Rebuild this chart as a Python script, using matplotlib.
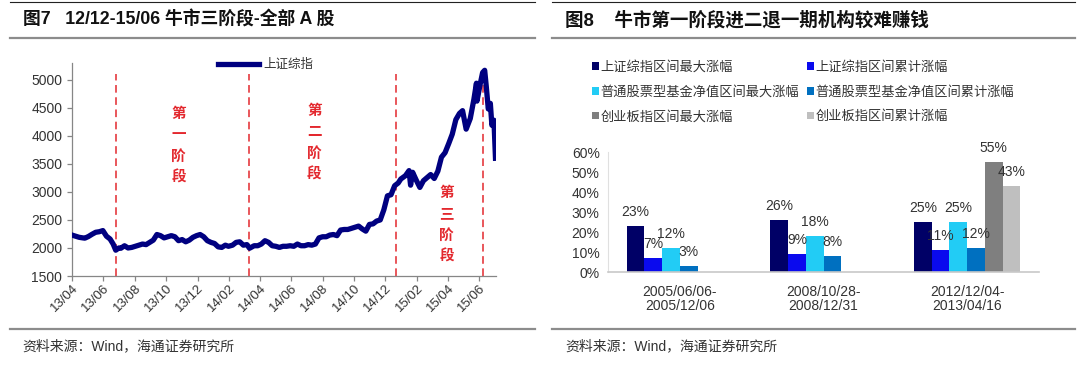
import matplotlib
matplotlib.use("Agg")
import matplotlib.pyplot as plt
import matplotlib.dates as mdates
from matplotlib.lines import Line2D
import numpy as np
import pandas as pd

plt.rcParams['font.family'] = ['Liberation Sans', 'Noto Sans CJK SC']

W, H = 1080, 368

# ---- 图7: 上证综指 (weekly points) ----
sh_dates = [
    '2013-04-01', '2013-04-08', '2013-04-15', '2013-04-22', '2013-04-26', '2013-05-03',
    '2013-05-10', '2013-05-17', '2013-05-24', '2013-05-31', '2013-06-07', '2013-06-14',
    '2013-06-20', '2013-06-25', '2013-07-01', '2013-07-05', '2013-07-12', '2013-07-19',
    '2013-07-26', '2013-08-02', '2013-08-09', '2013-08-16', '2013-08-23', '2013-08-30',
    '2013-09-06', '2013-09-13', '2013-09-20', '2013-09-27', '2013-10-11', '2013-10-18',
    '2013-10-25', '2013-11-01', '2013-11-08', '2013-11-15', '2013-11-22', '2013-11-29',
    '2013-12-06', '2013-12-13', '2013-12-20', '2013-12-27',
    '2014-01-03', '2014-01-10', '2014-01-17', '2014-01-24', '2014-01-30', '2014-02-07',
    '2014-02-14', '2014-02-21', '2014-02-28', '2014-03-07', '2014-03-12', '2014-03-21',
    '2014-03-28', '2014-04-04', '2014-04-11', '2014-04-18', '2014-04-25', '2014-05-02',
    '2014-05-09', '2014-05-16', '2014-05-23', '2014-05-30', '2014-06-06', '2014-06-13',
    '2014-06-20', '2014-06-27', '2014-07-04', '2014-07-11', '2014-07-18', '2014-07-25',
    '2014-08-01', '2014-08-08', '2014-08-15', '2014-08-22', '2014-08-29', '2014-09-05',
    '2014-09-12', '2014-09-19', '2014-09-26', '2014-10-10', '2014-10-17', '2014-10-24',
    '2014-10-31', '2014-11-07', '2014-11-14', '2014-11-21', '2014-11-28', '2014-12-05',
    '2014-12-12', '2014-12-19', '2014-12-26', '2014-12-31',
    '2015-01-09', '2015-01-16', '2015-01-19', '2015-01-23', '2015-01-30', '2015-02-06',
    '2015-02-13', '2015-02-27', '2015-03-06', '2015-03-13', '2015-03-20', '2015-03-27',
    '2015-04-03', '2015-04-10', '2015-04-17', '2015-04-24', '2015-04-30', '2015-05-07',
    '2015-05-15', '2015-05-22', '2015-05-27', '2015-05-28', '2015-06-03', '2015-06-08',
    '2015-06-12', '2015-06-15', '2015-06-19', '2015-06-23', '2015-06-26', '2015-06-30',
    '2015-07-03',
]
sh_close = [
    2230, 2210, 2190, 2180, 2175, 2205,
    2245, 2280, 2290, 2310, 2210, 2160,
    2070, 1960, 2000, 1995, 2040, 2000,
    2010, 2030, 2050, 2070, 2060, 2100,
    2140, 2240, 2220, 2180, 2220, 2200,
    2130, 2150, 2110, 2140, 2190, 2220,
    2240, 2200, 2130, 2100,
    2080, 2020, 2010, 2050, 2030, 2050,
    2100, 2110, 2050, 2060, 1995, 2040,
    2040, 2070, 2130, 2100, 2040, 2030,
    2010, 2030, 2030, 2040, 2030, 2070,
    2040, 2040, 2060, 2050, 2070, 2180,
    2200, 2200, 2230, 2240, 2220, 2320,
    2330, 2330, 2350, 2390, 2340, 2300,
    2420, 2430, 2480, 2500, 2680, 2930,
    2950, 3110, 3160, 3230,
    3290, 3380, 3120, 3350, 3210, 3080,
    3200, 3310, 3240, 3370, 3620, 3700,
    3860, 4030, 4290, 4400, 4450, 4120,
    4310, 4650, 4940, 4620, 4910, 5130,
    5170, 4890, 4480, 4580, 4190, 4280,
    3600,
]
stage_dates = ['2013-06-25', '2014-03-11', '2014-12-22', '2015-06-09']
stage_labels = ['第\n一\n阶\n段', '第\n二\n阶\n段', '第\n三\n阶\n段']

# ---- 图8: 区间涨幅 (%) ----
periods = ['2005/06/06-\n2005/12/06', '2008/10/28-\n2008/12/31', '2012/12/04-\n2013/04/16']
sh_max = [23, 26, 25]
sh_cum = [7, 9, 11]
fund_max = [12, 18, 25]
fund_cum = [3, 8, 12]
gem_max = [np.nan, np.nan, 55]
gem_cum = [np.nan, np.nan, 43]
series_names = ['上证综指区间最大涨幅', '上证综指区间累计涨幅',
                '普通股票型基金净值区间最大涨幅', '普通股票型基金净值区间累计涨幅',
                '创业板指区间最大涨幅', '创业板指区间累计涨幅']
series_colors = ['#000066', '#0A0AEE', '#22CCF5', '#0070C0', '#7F7F7F', '#BFBFBF']

fig = plt.figure(figsize=(W / 100, H / 100), dpi=100)


def fx(px):
    return px / W


def fy(py):
    return 1 - py / H


# frame lines of both panels
for x0, x1 in [(10, 535), (552, 1075)]:
    fig.add_artist(Line2D([fx(x0), fx(x1)], [fy(2), fy(2)], color='#222222', lw=0.8))
    fig.add_artist(Line2D([fx(x0), fx(x1)], [fy(38), fy(38)], color='#8C8C8C', lw=1.6))
    fig.add_artist(Line2D([fx(x0), fx(x1)], [fy(329), fy(329)], color='#8C8C8C', lw=1.6))

fig.text(fx(23), fy(20), '图7   12/12-15/06 牛市三阶段-全部 A 股', fontsize=12.8,
         fontweight='bold', va='center', ha='left', color='#111111')
fig.text(fx(565), fy(20), '图8    牛市第一阶段进二退一期机构较难赚钱', fontsize=13.3,
         fontweight='bold', va='center', ha='left', color='#111111')
for x in (22, 565):
    fig.text(fx(x), fy(346), '资料来源：Wind，海通证券研究所', fontsize=10,
             va='center', ha='left', color='#333333')

# ---- left chart ----
ax1 = fig.add_axes([fx(72), fy(276), fx(496 - 72), (276 - 63) / H])
dates = pd.to_datetime(sh_dates)
ax1.plot(dates, sh_close, color='#000080', lw=3.8, solid_joinstyle='round',
         label='上证综指', zorder=3)
for d in stage_dates:
    ax1.vlines(pd.Timestamp(d), 1500, 5100, colors='#E3282E', linestyles=(0, (5, 3)),
               lw=1.1, zorder=2)

stage_pos = [('2013-10-25', 3840), ('2014-07-16', 3890), ('2015-03-30', 2430)]
for (d, v), lab in zip(stage_pos, stage_labels):
    ax1.text(pd.Timestamp(d), v, lab, color='#E3282E', fontsize=10.5, ha='center',
             va='center', linespacing=1.4, fontweight='bold', family=['Noto Sans CJK SC'])

ax1.set_xlim(pd.Timestamp('2013-04-01'), pd.Timestamp('2015-07-04'))
ax1.set_ylim(1500, 5300)
ax1.set_yticks(range(1500, 5001, 500))
ax1.xaxis.set_major_locator(mdates.MonthLocator(bymonth=[2, 4, 6, 8, 10, 12]))
ax1.xaxis.set_major_formatter(mdates.DateFormatter('%y/%m'))
for s in ['top', 'right']:
    ax1.spines[s].set_visible(False)
for s in ['left', 'bottom']:
    ax1.spines[s].set_color('#868686')
    ax1.spines[s].set_linewidth(0.9)
ax1.tick_params(axis='both', colors='#868686', labelcolor='#333333', length=3.5,
                width=0.9, labelsize=10)
ax1.tick_params(axis='x', labelsize=9.5, pad=1)
plt.setp(ax1.get_xticklabels(), rotation=45, ha='right', rotation_mode='anchor')
ax1.legend(loc='center left', bbox_to_anchor=(fx(218), fy(65)),
           bbox_transform=fig.transFigure, frameon=False, fontsize=9,
           handlelength=3.3, handletextpad=0.3, borderpad=0, borderaxespad=0,
           labelcolor='#333333')

# ---- right chart ----
ax2 = fig.add_axes([fx(608), fy(272), fx(1039 - 608), (272 - 152) / H])
xs = np.arange(len(periods))
bw = 0.123
all_series = [sh_max, sh_cum, fund_max, fund_cum, gem_max, gem_cum]
handles = []
for i, (vals, name, col) in enumerate(zip(all_series, series_names, series_colors)):
    pos = xs + (i - 2.5) * bw
    vals = np.array(vals, dtype=float)
    bars = ax2.bar(pos, vals, width=bw, color=col, label=name, zorder=2)
    handles.append(bars)
    for p, v in zip(pos, vals):
        if np.isnan(v):
            continue
        ax2.annotate(f'{v:.0f}%', (p, v), xytext=(0, 10), textcoords='offset points',
                     ha='center', va='center', fontsize=10, color='#333333', zorder=4)

ax2.set_xlim(-0.5, 2.5)
ax2.set_ylim(0, 60)
ax2.set_yticks(range(0, 61, 10))
ax2.set_yticklabels([f'{t}%' for t in range(0, 61, 10)])
ax2.set_xticks(xs)
ax2.set_xticklabels(periods, linespacing=1.0)
for s in ['top', 'right']:
    ax2.spines[s].set_visible(False)
ax2.spines['left'].set_color('#E0E0E0')
ax2.spines['bottom'].set_color('#C8C8C8')
ax2.spines['bottom'].set_linewidth(1.2)
ax2.tick_params(axis='both', length=0, labelsize=10, labelcolor='#333333')
ax2.tick_params(axis='x', pad=9)
ax2.tick_params(axis='y', pad=6)

order = [0, 2, 4, 1, 3, 5]
ax2.legend([handles[i] for i in order], [series_names[i] for i in order], ncol=2,
           loc='upper left', bbox_to_anchor=(fx(592), fy(61)),
           bbox_transform=fig.transFigure, frameon=False, fontsize=9.5,
           handlelength=0.5, handleheight=0.5, handletextpad=0.15, labelspacing=0.9,
           columnspacing=0.6, borderpad=0, borderaxespad=0, labelcolor='#333333')

fig.savefig('out.png', dpi=100, facecolor='white')
